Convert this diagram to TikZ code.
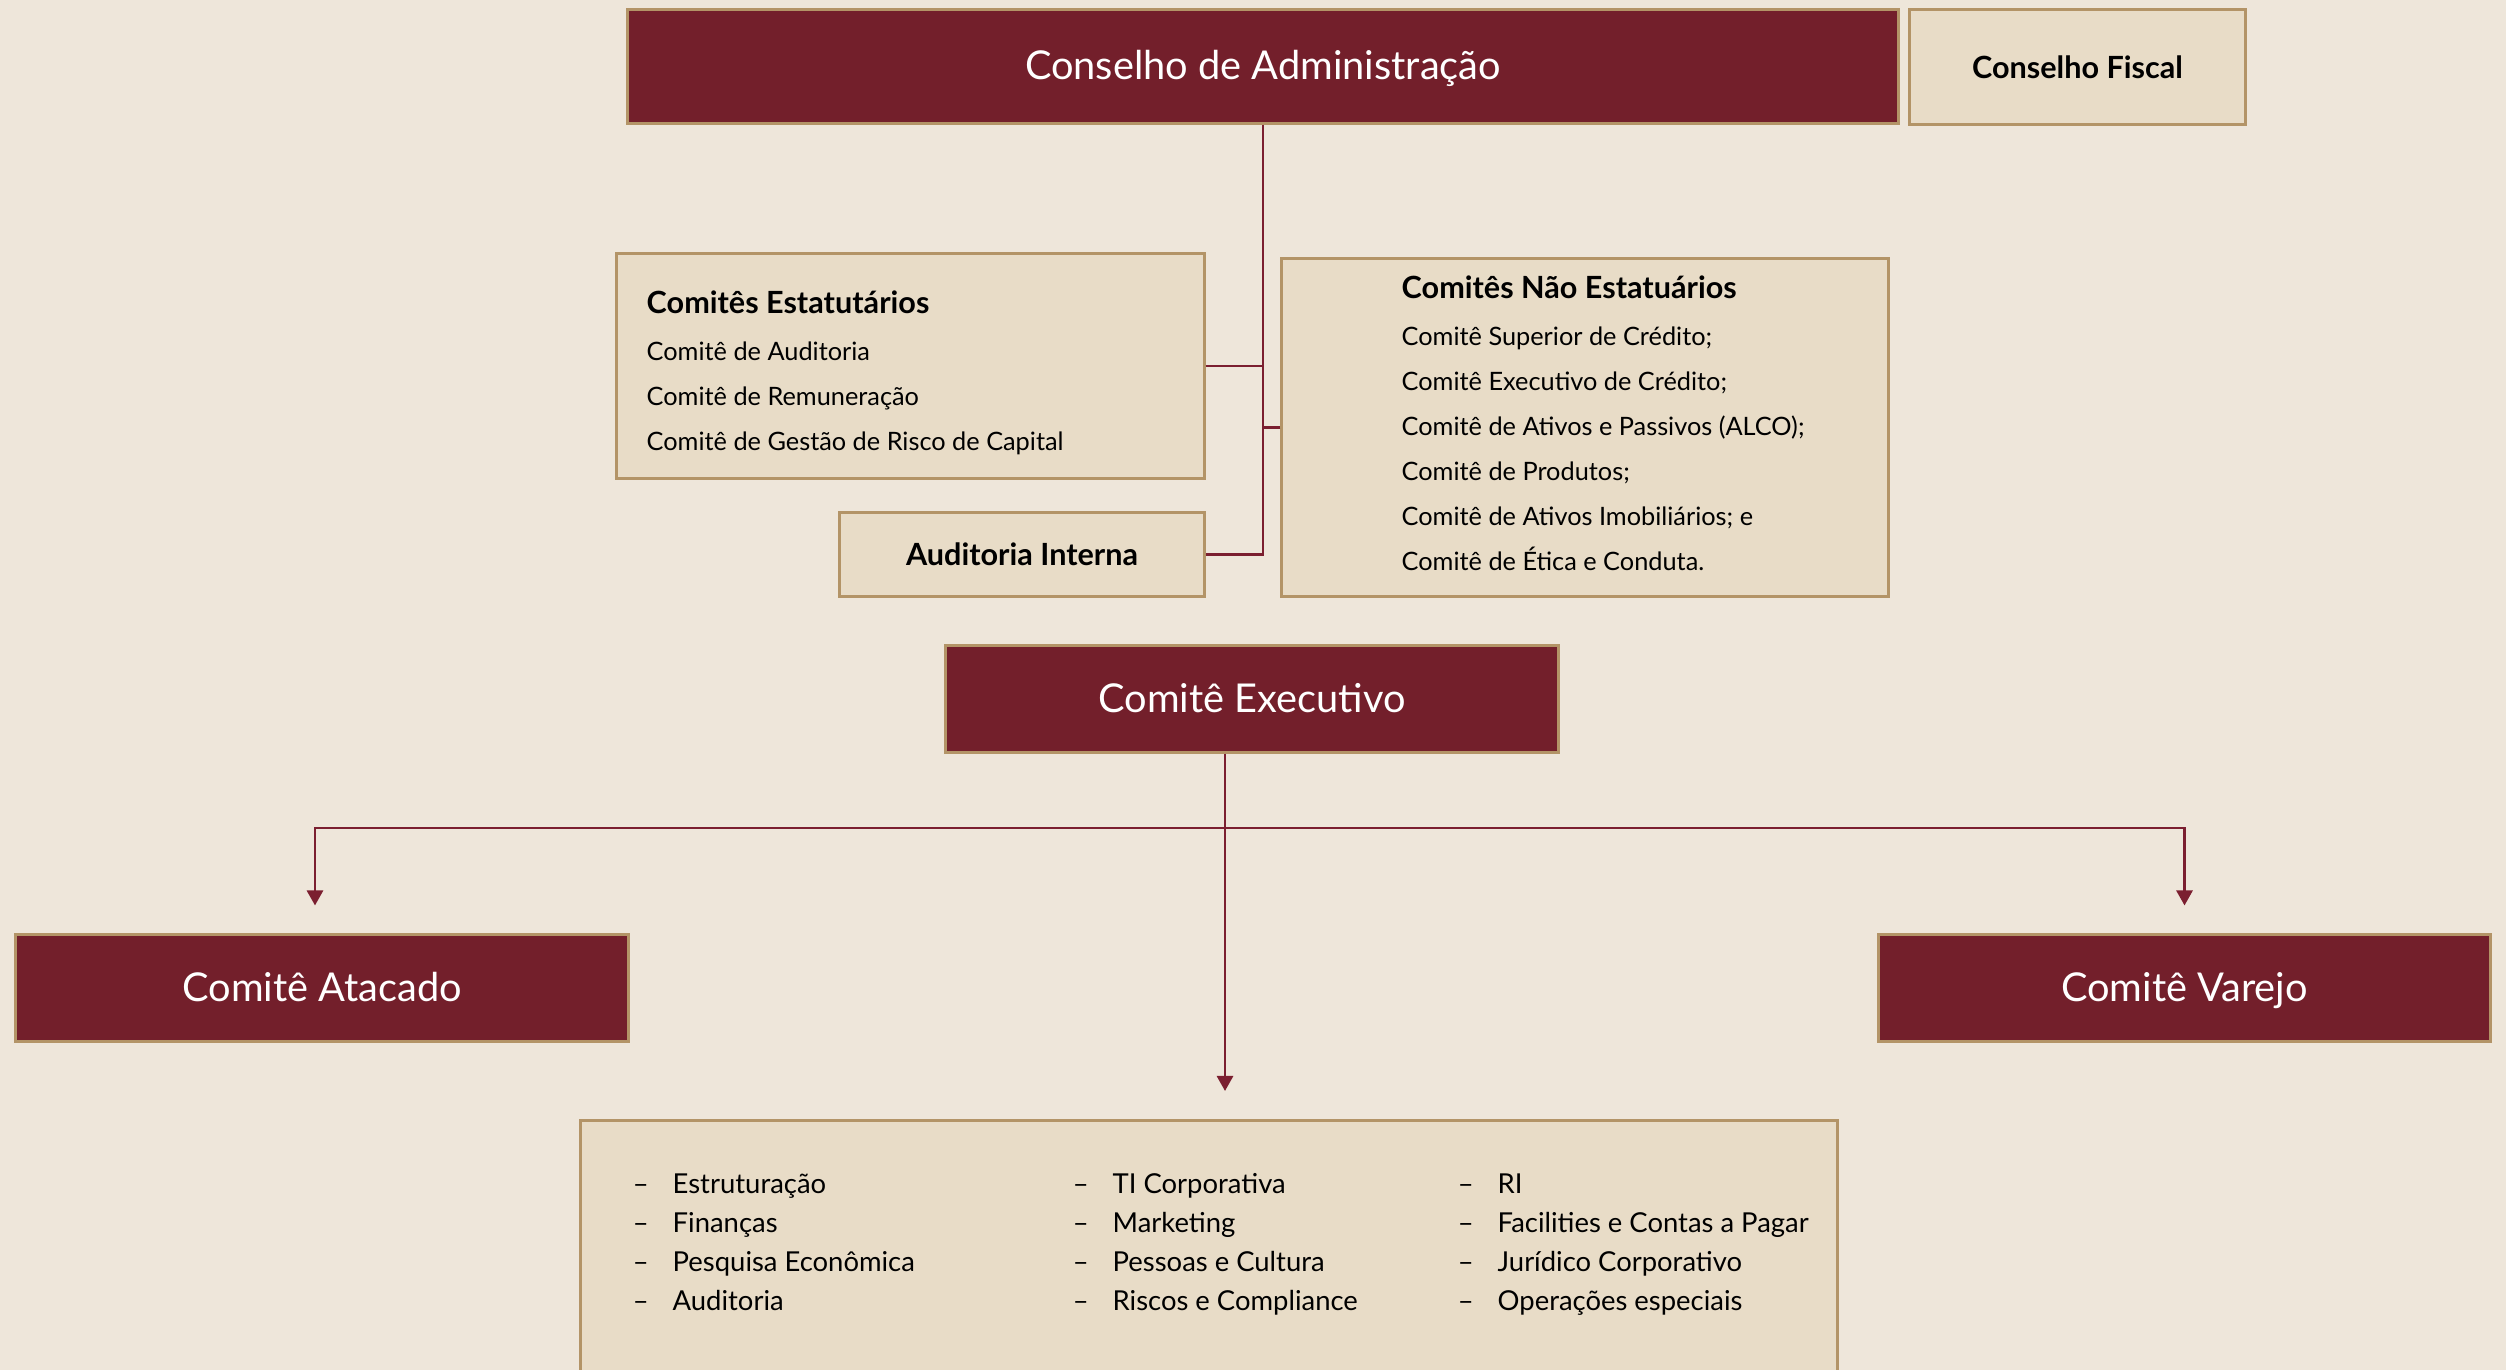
\documentclass[tikz,border=0pt]{standalone}
\usepackage{fontspec}
\setmainfont{Lato}
\usetikzlibrary{arrows.meta,calc}
\definecolor{fundo}{HTML}{EEE6DA}
\definecolor{bege}{HTML}{E8DCC7}
\definecolor{vinho}{HTML}{731F2B}
\definecolor{borda}{HTML}{B39467}
\definecolor{linhacor}{HTML}{7B1F30}
\tikzstyle{caixavinho} = [rectangle, draw=borda, fill=vinho, line width=0.85pt, text=white, font=\fontsize{11.3}{13}\selectfont, inner sep=0pt, text height=0.76em, text depth=0pt]
\tikzstyle{caixabege} = [rectangle, draw=borda, fill=bege, line width=0.85pt, inner sep=0pt, font=\fontsize{8.7}{10}\selectfont\bfseries]
\tikzstyle{titulo} = [anchor=west, inner sep=0pt, text height=1.5ex, text depth=0.3ex, font=\fontsize{8.7}{10}\selectfont\bfseries]
\tikzstyle{item} = [anchor=west, inner sep=0pt, text height=1.5ex, text depth=0.3ex, font=\fontsize{7.2}{8}\selectfont]
\tikzstyle{itembaixo} = [anchor=west, inner sep=0pt, text height=1.5ex, text depth=0.3ex, font=\fontsize{7.8}{9}\selectfont]
\tikzstyle{linha} = [draw=linhacor, line width=0.8pt]
\tikzstyle{arrow} = [linha, -{Triangle[length=0.15cm,width=0.16cm]}, shorten >=0.28cm]

\begin{document}
\begin{tikzpicture}[x=0.01cm, y=-0.01cm]
\fill[fundo] (0,0) rectangle (2506,1370);
\clip (0,0) rectangle (2506,1370);

% conselhos
\node (ca) [caixavinho, minimum width=12.7cm, minimum height=1.13cm] at (1263,66.5) {Conselho de Administração};
\node (cf) [caixabege, minimum width=3.35cm, minimum height=1.14cm] at (2077.5,67) {Conselho Fiscal};

% comites
\node (est) [caixabege, minimum width=5.87cm, minimum height=2.24cm] at (910.5,366) {};
\node (nest) [caixabege, minimum width=6.06cm, minimum height=3.37cm] at (1585,427.5) {};
\node (aud) [caixabege, minimum width=3.64cm, minimum height=0.83cm] at (1022,554.5) {Auditoria Interna};

\node (esttit) [titulo] at (646,303) {Comitês Estatutários};
\foreach \t [count=\i] in {Comitê de Auditoria, Comitê de Remuneração, Comitê de Gestão de Risco de Capital}
  \node (est\i) [item] at (646,305+45*\i) {\t};

\node (nesttit) [titulo] at (1401,288) {Comitês Não Estatuários};
\foreach \t [count=\i] in {Comitê Superior de Crédito;, Comitê Executivo de Crédito;, Comitê de Ativos e Passivos (ALCO);, Comitê de Produtos;, Comitê de Ativos Imobiliários; e, Comitê de Ética e Conduta.}
  \node (nest\i) [item] at (1401,290+45*\i) {\t};

\draw [linha] (ca.south) |- (aud.east);
\draw [linha] (est.east) -- (est.east -| ca.south);
\draw [linha] (nest.west) -- (nest.west -| ca.south);

% executivo
\node (exe) [caixavinho, minimum width=6.12cm, minimum height=1.06cm] at (1252,699) {Comitê Executivo};
\node (ata) [caixavinho, minimum width=6.12cm, minimum height=1.06cm] at (322,988) {Comitê Atacado};
\node (var) [caixavinho, minimum width=6.11cm, minimum height=1.06cm] at (2184.5,988) {Comitê Varejo};
\node (areas) [caixabege, minimum width=12.56cm, minimum height=3.2cm, anchor=north] at (1209,1119) {};

\coordinate (split) at (1225,828);
\draw [linha] (exe.south -| split) -- (split);
\draw [arrow] (split) -| ([xshift=-0.07cm]ata.north);
\draw [arrow] (split) -| (var.north);
\draw [arrow] (split) -- (areas.north -| split);

% areas
\foreach \t [count=\i] in {Estruturação, Finanças, Pesquisa Econômica, Auditoria}
  \node (a\i) [itembaixo] at (672,1144+39*\i) {\llap{–\hspace{0.24cm}}\t};
\foreach \t [count=\i] in {TI Corporativa, Marketing, Pessoas e Cultura, Riscos e Compliance}
  \node (b\i) [itembaixo] at (1112,1144+39*\i) {\llap{–\hspace{0.24cm}}\t};
\foreach \t [count=\i] in {RI, Facilities e Contas a Pagar, Jurídico Corporativo, Operações especiais}
  \node (c\i) [itembaixo] at (1497,1144+39*\i) {\llap{–\hspace{0.24cm}}\t};

\end{tikzpicture}
\end{document}
